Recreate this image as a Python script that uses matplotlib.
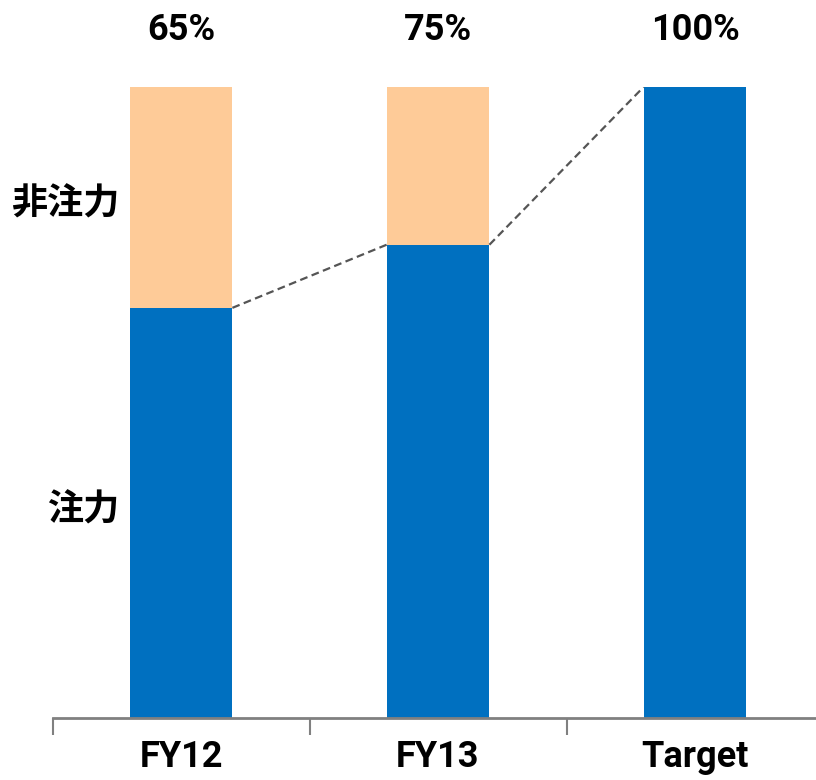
import matplotlib
matplotlib.use("Agg")
import matplotlib.pyplot as plt
import numpy as np

categories = ["FY12", "FY13", "Target"]
focus = [65, 75, 100]
non_focus = [35, 25, 0]
pct_labels = ["65%", "75%", "100%"]
series_names = ["注力", "非注力"]

blue = "#0070C0"
orange = "#FECB98"

fig = plt.figure(figsize=(8.16, 7.8), dpi=100)
ax = fig.add_axes([52.5 / 816, 62 / 780, 771 / 816, 631 / 780])

x = np.arange(len(categories))
w = 0.40
ax.bar(x, focus, w, color=blue)
ax.bar(x, non_focus, w, bottom=focus, color=orange)

# dashed connectors between the blue tops
for i in range(len(categories) - 1):
    ax.plot([x[i] + w / 2, x[i + 1] - w / 2], [focus[i], focus[i + 1]],
            ls=(0, (3.5, 2.0)), color="#555555", lw=1.6)

latin = ["Roboto", "DejaVu Sans"]
for i, t in enumerate(pct_labels):
    ax.text(x[i], 109, t, ha="center", va="center", fontsize=26,
            fontweight="bold", family=latin)

# series labels beside first bar
cjk = ["Noto Sans CJK JP", "DejaVu Sans"]
ax.text(x[0] - w / 2 - 0.04, 81.5, series_names[1],
        ha="right", va="center", fontsize=26, fontweight="bold", family=cjk)
ax.text(x[0] - w / 2 - 0.04, 33.0, series_names[0],
        ha="right", va="center", fontsize=26, fontweight="bold", family=cjk)

ax.set_xlim(-0.5, 2.5)
ax.set_ylim(0, 100)
ax.set_yticks([])
ax.set_xticks([-0.5, 0.5, 1.5, 2.5])
ax.set_xticklabels([])
ax.set_xticks(x, minor=True)
ax.set_xticklabels(categories, minor=True, fontsize=26, fontweight="bold",
                   family=latin)
ax.tick_params(axis="x", which="major", length=12, width=1.5, color="#808080")
ax.tick_params(axis="x", which="minor", length=0, pad=15)
for s in ["top", "right", "left"]:
    ax.spines[s].set_visible(False)
ax.spines["bottom"].set_color("#808080")
ax.spines["bottom"].set_linewidth(2)

fig.savefig("out.png", dpi=100)
